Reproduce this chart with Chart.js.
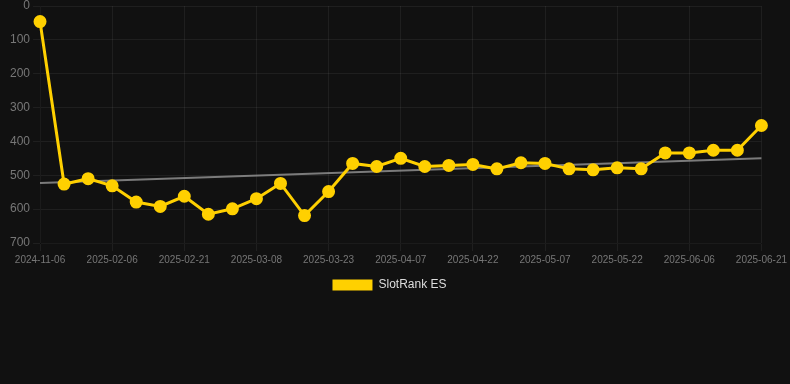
<!DOCTYPE html>
<html>
<head>
    <title>SlotRank ES</title>
    <script src="https://cdn.jsdelivr.net/npm/chart.js@4/dist/chart.umd.min.js"></script>
    <style>
        html, body {
            margin: 0;
            padding: 0;
            background-color: #111111;
        }

        #rankChartContainer {
            position: relative;
            width: 790px;
            height: 301px;
        }
    </style>
</head>
<body>
    <div id="rankChartContainer">
        <canvas id="rankChart"></canvas>
    </div>

    <script>
        const dates = [
            '2024-11-06', '2025-01-27', '2025-02-01', '2025-02-06', '2025-02-11', '2025-02-16',
            '2025-02-21', '2025-02-26', '2025-03-03', '2025-03-08', '2025-03-13', '2025-03-18',
            '2025-03-23', '2025-03-28', '2025-04-02', '2025-04-07', '2025-04-12', '2025-04-17',
            '2025-04-22', '2025-04-27', '2025-05-02', '2025-05-07', '2025-05-12', '2025-05-17',
            '2025-05-22', '2025-05-27', '2025-06-01', '2025-06-06', '2025-06-11', '2025-06-16',
            '2025-06-21'
        ];

        const ranks = [
            46, 526, 510, 531, 579, 592, 562, 615, 599, 569, 524, 619, 548, 465, 474, 450,
            474, 471, 468, 481, 463, 465, 481, 484, 478, 481, 434, 434, 426, 426, 353
        ];

        // trend line: only the two end values, gap filled by the line
        const trendStart = 523;
        const trendEnd = 450;
        const trend = dates.map((d, i) => i === 0 ? trendStart : (i === dates.length - 1 ? trendEnd : null));

        const yTicks = [0, 100, 200, 300, 400, 500, 600, 700];

        const ctx = document.getElementById('rankChart').getContext('2d');
        const rankChart = new Chart(ctx, {
            type: 'line',
            data: {
                labels: dates,
                datasets: [{
                    label: 'SlotRank ES',
                    data: ranks,
                    borderColor: 'rgb(255, 208, 0)',
                    backgroundColor: 'rgb(255, 208, 0)',
                    borderWidth: 3,
                    pointRadius: 5,
                    pointHoverRadius: 6,
                    tension: 0
                }, {
                    label: 'trend',
                    data: trend,
                    borderColor: 'rgba(150, 150, 150, 0.8)',
                    borderWidth: 2,
                    pointRadius: 0,
                    spanGaps: true
                }]
            },
            options: {
                responsive: true,
                maintainAspectRatio: false,
                animation: false,
                layout: {
                    autoPadding: false,
                    padding: { left: 7, right: 18 }
                },
                scales: {
                    x: {
                        grid: { color: 'rgba(255, 255, 255, 0.06)' },
                        ticks: {
                            color: '#777',
                            font: { size: 10 },
                            maxRotation: 0,
                            autoSkip: true,
                            maxTicksLimit: 11
                        }
                    },
                    y: {
                        reverse: true,
                        min: yTicks[0],
                        max: yTicks[yTicks.length - 1],
                        grid: { color: 'rgba(255, 255, 255, 0.06)', tickLength: 7 },
                        ticks: {
                            color: '#777',
                            font: { size: 12 },
                            stepSize: 100,
                            padding: 3
                        },
                        afterFit: function(scale) {
                            // "0" sits close to the top edge, label partly cut
                            scale.paddingTop = 6;
                        }
                    }
                },
                plugins: {
                    legend: {
                        display: true,
                        position: 'bottom',
                        labels: {
                            color: '#ddd',
                            font: { size: 12 },
                            boxWidth: 40,
                            boxHeight: 11,
                            generateLabels: function(chart) {
                                return Chart.defaults.plugins.legend.labels.generateLabels(chart)
                                    .filter(item => item.text !== 'trend')
                                    .map(item => Object.assign(item, { lineWidth: 0 }));
                            }
                        }
                    },
                    tooltip: { enabled: false }
                }
            }
        });
    </script>
</body>
</html>
